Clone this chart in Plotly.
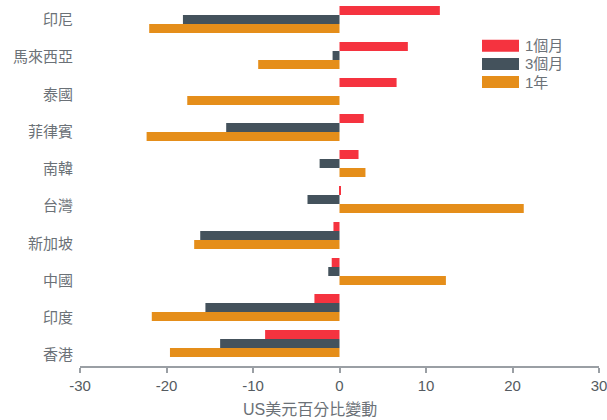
import plotly.graph_objects as go

# Currency moves vs. USD (%), by market
categories = ["印尼", "馬來西亞", "泰國", "菲律賓", "南韓", "台灣", "新加坡", "中國", "印度", "香港"]
series_names = ["1個月", "3個月", "1年"]
one_month = [11.6, 7.9, 6.6, 2.8, 2.2, 0.15, -0.7, -0.9, -2.9, -8.6]
three_month = [-18.1, -0.8, 0.0, -13.1, -2.3, -3.7, -16.1, -1.3, -15.5, -13.8]
one_year = [-22.0, -9.4, -17.6, -22.3, 3.0, 21.3, -16.8, 12.3, -21.7, -19.6]
x_ticks = [-30, -20, -10, 0, 10, 20, 30]
x_tick_text = ["-30", "-20", "-10", "0", "10", "20", "30"]
x_title = "US美元百分比變動"

colors = ["#F5333F", "#44525C", "#E58E1A"]
values = [one_month, three_month, one_year]

W, H = 607, 420
ML, MR, MT, MB = 80, 8, 0, 54
plot_w = W - ML - MR
plot_h = H - MT - MB

fig = go.Figure()
for name, vals, col in zip(series_names, values, colors):
    fig.add_trace(go.Bar(
        x=vals, y=categories, name=name, orientation="h",
        marker=dict(color=col, line=dict(width=0)),
        showlegend=False, hoverinfo="x+y",
    ))

tick_font = dict(family="Liberation Sans, Noto Sans CJK TC", size=15, color="#555b61")
cat_font = dict(family="Noto Sans CJK TC", size=15, color="#6b7177")

fig.update_layout(
    width=W, height=H, autosize=False,
    margin=dict(l=ML, r=MR, t=MT, b=MB, pad=0),
    paper_bgcolor="white", plot_bgcolor="white",
    barmode="group", bargap=0.25, bargroupgap=0,
    xaxis=dict(
        range=[-30, 30], tickvals=x_ticks, ticktext=x_tick_text,
        ticks="outside", ticklen=5, ticklabeloverflow="allow",
        tickcolor="#9a9fa4", tickwidth=1.5, showline=True, linecolor="#9a9fa4",
        linewidth=2, showgrid=False, zeroline=False, tickfont=tick_font,
        fixedrange=True,
    ),
    yaxis=dict(
        type="category", categoryorder="array", categoryarray=categories,
        range=[9.625, -0.5417], showticklabels=False, ticks="",
        showgrid=False, zeroline=False, showline=False, fixedrange=True,
    ),
    yaxis2=dict(
        overlaying="y", side="left", anchor="x",
        range=[9.2955, -0.537],
        tickvals=list(range(len(categories))), ticktext=categories,
        ticks="", ticklabelstandoff=6, showgrid=False, zeroline=False,
        showline=False, tickfont=cat_font, fixedrange=True,
    ),
)

# keep the label axis attached to the subplot
fig.add_trace(go.Scatter(
    x=[None], y=[None], yaxis="y2", mode="markers",
    showlegend=False, hoverinfo="skip",
))

def px_x(px):
    return (px - ML) / plot_w

def px_y(py):
    return (MT + plot_h - py) / plot_h

# legend swatches and labels
for i, (name, col) in enumerate(zip(series_names, colors)):
    cy = 45.7 + 18.2 * i
    fig.add_shape(
        type="rect", xref="paper", yref="paper",
        x0=px_x(482), x1=px_x(519), y0=px_y(cy + 6), y1=px_y(cy - 6),
        fillcolor=col, line=dict(width=0),
    )
    fig.add_annotation(
        x=px_x(523), y=px_y(cy), xref="paper", yref="paper",
        text=name, showarrow=False, xanchor="left", yanchor="middle",
        font=dict(family="Liberation Sans, Noto Sans CJK TC", size=15, color="#6b7177"),
    )

fig.add_annotation(
    x=px_x(310), y=px_y(410), xref="paper", yref="paper",
    text=x_title, showarrow=False, xanchor="center", yanchor="middle",
    font=dict(family="Liberation Sans, Noto Sans CJK TC", size=16, color="#6b7177"),
)

fig.write_html("out.html")
